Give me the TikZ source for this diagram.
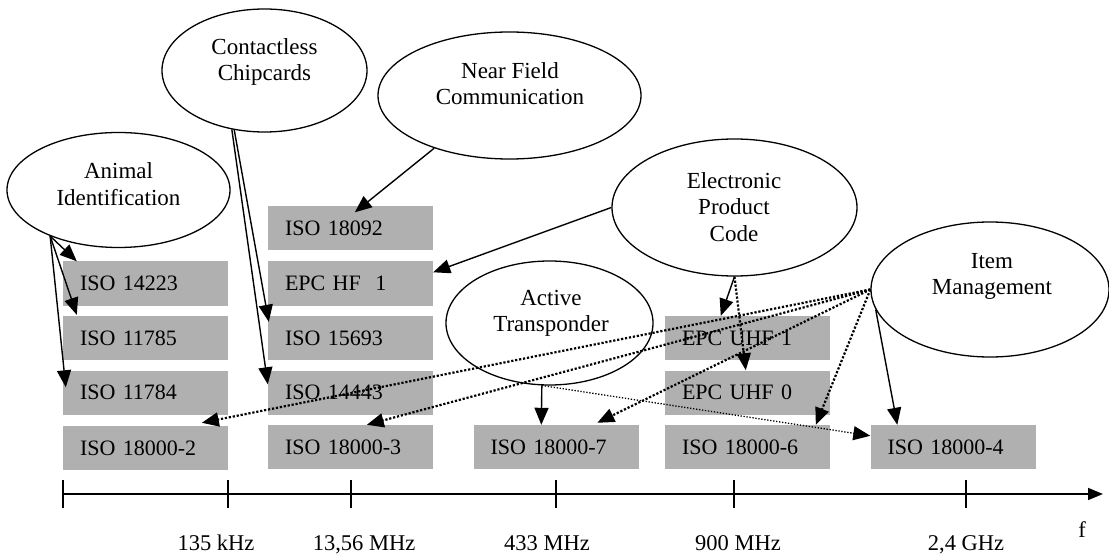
\documentclass[tikz,border=0pt]{standalone}
\usepackage{fontspec}
\setmainfont{Liberation Serif}
\usetikzlibrary{shapes.geometric,arrows.meta,calc}
\definecolor{boxgray}{RGB}{176,176,176}
\begin{document}
\begin{tikzpicture}[x=1pt,y=-1pt,
  font=\fontsize{22}{26.5}\selectfont,
  el/.style={draw, ellipse, line width=1.3pt, inner sep=0pt},
  eltext/.style={align=center, inner sep=0pt, font=\fontsize{23}{26.5}\selectfont},
  std/.style={fill=boxgray, minimum width=165pt, minimum height=44pt, inner xsep=17pt, inner ysep=0pt, text width=131pt, align=left},
  sol/.style={line width=1.4pt, -{Triangle[length=17pt,width=14pt]}},
  dot/.style={line width=2.2pt, dash pattern=on 2.2pt off 1.8pt, -{Triangle[length=17pt,width=14pt]}},
  thindot/.style={line width=1.3pt, dash pattern=on 1.3pt off 1.7pt, -{Triangle[length=17pt,width=14pt]}},
  axlabel/.style={inner sep=0pt, anchor=base, font=\fontsize{22.5}{26}\selectfont}
]
\useasboundingbox (0,0) rectangle (1109,556);
\fill[white] (0,0) rectangle (1109,556);

% standard boxes
\node[std] (i14223) at (145.5,283.5) {ISO 14223};
\node[std] (i11785) at (145.5,338) {ISO 11785};
\node[std] (i11784) at (145.5,392.5) {ISO 11784};
\node[std] (i2) at (145.5,448) {ISO 18000-2};
\node[std] (i18092) at (350.5,228.5) {ISO 18092};
\node[std] (hf1) at (350.5,283.5) {EPC HF\ \ 1};
\node[std] (i15693) at (350.5,338) {ISO 15693};
\node[std] (i14443) at (350.5,392.5) {ISO 14443};
\node[std] (i3) at (350.5,447) {ISO 18000-3};
\node[std] (i7) at (556,447) {ISO 18000-7};
\node[std] (uhf1) at (747.5,338) {EPC UHF 1};
\node[std] (uhf0) at (747.5,392.5) {EPC UHF 0};
\node[std] (i6) at (747.5,447) {ISO 18000-6};
\node[std] (i4) at (953,447) {ISO 18000-4};

% application ellipses
\node[el, minimum width=223pt, minimum height=115pt] (anim) at (118.5,190) {};
\node[eltext] (animT) at (118.5,184) {Animal\\Identification};
\node[el, minimum width=205pt, minimum height=123pt] (cc) at (264.5,70.5) {};
\node[eltext] (ccT) at (264.5,62) {Contactless\\Chipcards};
\node[el, minimum width=263pt, minimum height=127pt] (nfc) at (509.5,95.5) {};
\node[eltext] (nfcT) at (510,83.5) {Near Field\\Communication};
\node[el, minimum width=245pt, minimum height=137pt] (epc) at (734.5,207.5) {};
\node[eltext] (epcT) at (734,207) {Electronic\\Product\\Code};
\node[el, minimum width=207pt, minimum height=124pt] (atr) at (549.5,323) {};
\node[eltext] (atrT) at (551,313.5) {Active\\Transponder};
\node[el, minimum width=238pt, minimum height=135pt] (im) at (990,289.5) {};
\node[eltext] (imT) at (992,276.5) {Item\\Management};

% connectors
\draw[sol] (anim.214) -- ($(i14223.north west)+(14,0)$);
\draw[sol] (anim.214) -- ($(i11785.north west)+(14,-1)$);
\draw[sol] (anim.214) -- ($(i11784.north west)+(3,17)$);
\draw[sol] (cc.243) -- ($(i15693.north west)+(1,6)$);
\draw[sol] (cc.241) -- ($(i14443.north west)+(0,14)$);
\draw[sol] (nfc.215) -- ($(i18092.north west)+(87,6)$);
\draw[sol] (epc.west) -- ($(hf1.north east)+(0,11)$);
\draw[sol] (epc.south) -- ($(uhf1.north west)+(56,0)$);
\draw[dot] (epc.south) -- ($(uhf0.north west)+(81,0)$);
\draw[sol] (atr.263) -- ($(i7.north west)+(68,0)$);
\draw[thindot] (atr.263) -- ($(i4.north west)+(0,11)$);
\draw[sol] (im.190) -- ($(i4.north west)+(27,0)$);
\draw[dot] (im.west) -- ($(i2.north west)+(139,-3)$);
\draw[dot] (im.west) -- ($(i3.north west)+(99,0)$);
\draw[dot] (im.west) -- ($(i7.north west)+(124,-2)$);
\draw[dot] (im.west) -- ($(i6.north west)+(151,0)$);

% frequency axis
\draw[line width=1.5pt, -{Triangle[length=15pt,width=12pt]}] (63,494) -- (1103,494);
\foreach \x in {63,228,351,556,734,966} \draw[line width=1.2pt] (\x,480) -- (\x,508);
\node[axlabel] (f135) at (216,550) {135 kHz};
\node[axlabel] (f1356) at (364,550) {13,56 MHz};
\node[axlabel] (f433) at (547,550) {433 MHz};
\node[axlabel] (f900) at (738,550) {900 MHz};
\node[axlabel] (f24) at (966,550) {2,4 GHz};
\node[axlabel] (fl) at (1082,537) {f};
\end{tikzpicture}
\end{document}
